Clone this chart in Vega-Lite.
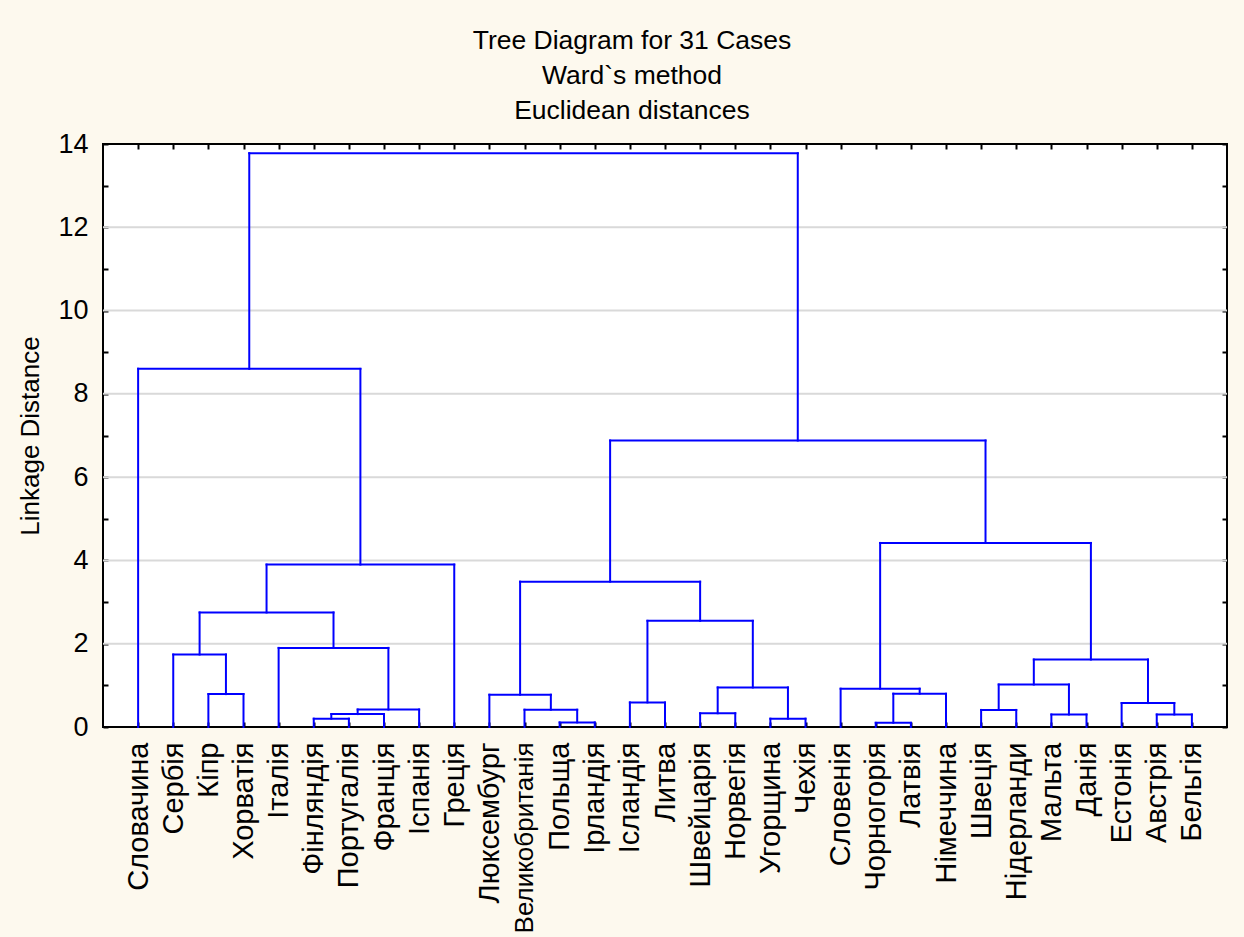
{
  "$schema": "https://vega.github.io/schema/vega-lite/v6.json",
  "autosize": {"type": "none"},
  "width": 1124,
  "height": 583,
  "padding": {"left": 103, "top": 144, "right": 17, "bottom": 210},
  "background": "#fdf9ee",
  "config": {
    "font": "Liberation Sans",
    "view": {"fill": "white", "stroke": "black", "strokeWidth": 2}
  },
  "title": {
    "text": ["Tree Diagram for 31 Cases", "Ward`s method", "Euclidean distances"],
    "fontSize": 26.5,
    "fontWeight": "normal",
    "color": "black",
    "lineHeight": 35,
    "anchor": "middle",
    "dx": -33,
    "offset": 6
  },
  "datasets": {
    "grid": [{"g": 2}, {"g": 4}, {"g": 6}, {"g": 8}, {"g": 10}, {"g": 12}],
    "merges": [
      {"node": "A", "lx": 6, "lh": 0, "rx": 7, "rh": 0, "h": 0.20},
      {"node": "B", "lx": 6.5, "lh": 0.20, "rx": 8, "rh": 0, "h": 0.31},
      {"node": "C", "lx": 7.25, "lh": 0.31, "rx": 9, "rh": 0, "h": 0.42},
      {"node": "D", "lx": 5, "lh": 0, "rx": 8.125, "rh": 0.42, "h": 1.90},
      {"node": "E", "lx": 3, "lh": 0, "rx": 4, "rh": 0, "h": 0.79},
      {"node": "F", "lx": 2, "lh": 0, "rx": 3.5, "rh": 0.79, "h": 1.74},
      {"node": "G", "lx": 2.75, "lh": 1.74, "rx": 6.5625, "rh": 1.90, "h": 2.75},
      {"node": "H", "lx": 4.65625, "lh": 2.75, "rx": 10, "rh": 0, "h": 3.90},
      {"node": "I", "lx": 1, "lh": 0, "rx": 7.328, "rh": 3.90, "h": 8.60},
      {"node": "J", "lx": 13, "lh": 0, "rx": 14, "rh": 0, "h": 0.11},
      {"node": "K", "lx": 12, "lh": 0, "rx": 13.5, "rh": 0.11, "h": 0.415},
      {"node": "L", "lx": 11, "lh": 0, "rx": 12.75, "rh": 0.415, "h": 0.775},
      {"node": "M", "lx": 15, "lh": 0, "rx": 16, "rh": 0, "h": 0.59},
      {"node": "N", "lx": 17, "lh": 0, "rx": 18, "rh": 0, "h": 0.33},
      {"node": "O", "lx": 19, "lh": 0, "rx": 20, "rh": 0, "h": 0.20},
      {"node": "P", "lx": 17.5, "lh": 0.33, "rx": 19.5, "rh": 0.20, "h": 0.95},
      {"node": "Q", "lx": 15.5, "lh": 0.59, "rx": 18.5, "rh": 0.95, "h": 2.55},
      {"node": "R", "lx": 11.875, "lh": 0.775, "rx": 17, "rh": 2.55, "h": 3.49},
      {"node": "S", "lx": 22, "lh": 0, "rx": 23, "rh": 0, "h": 0.10},
      {"node": "T", "lx": 22.5, "lh": 0.10, "rx": 24, "rh": 0, "h": 0.80},
      {"node": "U", "lx": 21, "lh": 0, "rx": 23.25, "rh": 0.80, "h": 0.92},
      {"node": "V", "lx": 25, "lh": 0, "rx": 26, "rh": 0, "h": 0.41},
      {"node": "W", "lx": 27, "lh": 0, "rx": 28, "rh": 0, "h": 0.30},
      {"node": "X", "lx": 25.5, "lh": 0.41, "rx": 27.5, "rh": 0.30, "h": 1.02},
      {"node": "Y", "lx": 30, "lh": 0, "rx": 31, "rh": 0, "h": 0.30},
      {"node": "Z", "lx": 29, "lh": 0, "rx": 30.5, "rh": 0.30, "h": 0.575},
      {"node": "AA", "lx": 26.5, "lh": 1.02, "rx": 29.75, "rh": 0.575, "h": 1.62},
      {"node": "AB", "lx": 22.125, "lh": 0.92, "rx": 28.125, "rh": 1.62, "h": 4.42},
      {"node": "AC", "lx": 14.4375, "lh": 3.49, "rx": 25.125, "rh": 4.42, "h": 6.88},
      {"node": "ROOT", "lx": 4.164, "lh": 8.60, "rx": 19.78, "rh": 6.88, "h": 13.78}
    ]
  },
  "layer": [
    {
      "data": {"name": "grid"},
      "mark": {"type": "rule", "color": "#d9d9d9", "strokeWidth": 2},
      "encoding": {
        "y": {"field": "g", "type": "quantitative", "scale": {"domain": [0, 14], "nice": false, "zero": false}, "axis": null}
      }
    },
    {
      "data": {"name": "merges"},
      "mark": {"type": "rule", "color": "#0000ff", "strokeWidth": 2, "strokeCap": "square"},
      "encoding": {
        "x": {"field": "lx", "type": "quantitative", "scale": {"domain": [0, 32], "nice": false, "zero": false},
          "axis": {"orient": "top", "values": [1,2,3,4,5,6,7,8,9,10,11,12,13,14,15,16,17,18,19,20,21,22,23,24,25,26,27,28,29,30,31],
            "labels": false, "domain": false, "grid": false, "tickSize": -5, "tickColor": "black", "tickWidth": 2, "title": null}},
        "x2": {"field": "rx"},
        "y": {"field": "h", "type": "quantitative", "scale": {"domain": [0, 14], "nice": false, "zero": false},
          "axis": {"orient": "right", "values": [0,1,2,3,4,5,6,7,8,9,10,11,12,13,14], "labels": false, "domain": false, "grid": false,
            "tickSize": -5, "tickColor": "black", "tickWidth": 2, "title": null}}
      }
    },
    {
      "data": {"name": "merges"},
      "mark": {"type": "rule", "color": "#0000ff", "strokeWidth": 2, "strokeCap": "square"},
      "encoding": {
        "x": {"field": "lx", "type": "quantitative", "scale": {"domain": [0, 32], "nice": false, "zero": false},
          "axis": {"orient": "bottom", "values": [1,2,3,4,5,6,7,8,9,10,11,12,13,14,15,16,17,18,19,20,21,22,23,24,25,26,27,28,29,30,31],
            "labelExpr": "['Словачина','Сербія','Кіпр','Хорватія','Італія','Фінляндія','Португалія','Франція','Іспанія','Греція','Люксембург','Великобританія','Польща','Ірландія','Ісландія','Литва','Швейцарія','Норвегія','Угорщина','Чехія','Словенія','Чорногорія','Латвія','Німеччина','Швеція','Нідерланди','Мальта','Данія','Естонія','Австрія','Бельгія'][datum.value - 1]",
            "labelAngle": 270, "labelAlign": "right", "labelBaseline": "middle",
            "labelFontSize": {"condition": {"test": "datum.value == 12", "value": 26}, "value": 29},
            "labelColor": "black",
            "labelPadding": 20, "labelOverlap": false, "labelBound": false, "labelFlush": false, "labelLimit": 400,
            "domain": false, "grid": false, "tickSize": -5, "tickColor": "black", "tickWidth": 2, "title": null}},
        "y": {"field": "lh", "type": "quantitative", "scale": {"domain": [0, 14], "nice": false, "zero": false},
          "axis": {"orient": "left", "values": [0,1,2,3,4,5,6,7,8,9,10,11,12,13,14],
            "labelExpr": "datum.value % 2 == 0 ? datum.label : ''",
            "labelFontSize": 27, "labelColor": "black", "labelPadding": 20, "labelFlush": false, "labelOverlap": false,
            "domain": false, "grid": false, "tickSize": -5, "tickColor": "black", "tickWidth": 2,
            "title": "Linkage Distance", "titleFontSize": 26, "titleFontWeight": "normal", "titleColor": "black", "titlePadding": 14}},
        "y2": {"field": "h"}
      }
    },
    {
      "data": {"name": "merges"},
      "mark": {"type": "rule", "color": "#0000ff", "strokeWidth": 2, "strokeCap": "square"},
      "encoding": {
        "x": {"field": "rx", "type": "quantitative", "scale": {"domain": [0, 32], "nice": false, "zero": false}, "axis": null},
        "y": {"field": "rh", "type": "quantitative", "scale": {"domain": [0, 14], "nice": false, "zero": false}, "axis": null},
        "y2": {"field": "h"}
      }
    }
  ],
  "resolve": {"axis": {"x": "independent", "y": "independent"}}
}
